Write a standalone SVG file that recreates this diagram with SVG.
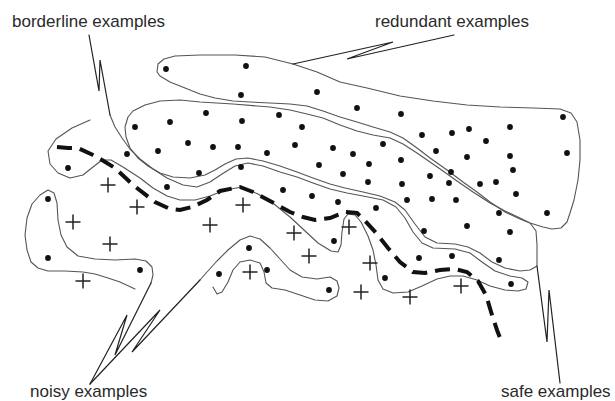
<svg xmlns="http://www.w3.org/2000/svg" width="615" height="401" viewBox="0 0 615 401">
<style>
.o{fill:none;stroke:#555;stroke-width:1.1;stroke-linejoin:round;stroke-linecap:round}
.p{fill:none;stroke:#222;stroke-width:1.2;stroke-linejoin:miter;stroke-linecap:round}
.d{fill:none;stroke:#111;stroke-width:4;stroke-dasharray:15 8}
.t{font-family:"Liberation Sans",Arial,sans-serif;font-size:17px;fill:#2a2a2a}
.x{stroke:#222;stroke-width:1.5}
</style>
<defs>
<circle id="dot" r="2.9" fill="#111"/>
<path id="plus" d="M-7.5,0H7.5M0,-7.5V7.5" class="x"/>
</defs>
<rect width="615" height="401" fill="#fff"/>
<g id="labels">
<text class="t" x="12" y="27">borderline examples</text>
<text class="t" x="375" y="27">redundant examples</text>
<text class="t" x="30" y="397">noisy examples</text>
<text class="t" x="501" y="397">safe examples</text>
</g>
<g id="regions">
<path id="redundant" class="o" d="M157,72 L158,64 L164,59 L175,56 L200,55 L235,55 L265,57 L293,64 L317,72 L340,82 L367,88 L400,96 L433,101 L467,105 L500,107 L533,108 L560,109 L571,113 L577,122 L580,140 L580,160 L578,180 L574,200 L570,213 L567,222 L561,228 L552,229 L543,227 L530,223 L520,219 L505,212 L490,202 L477,192 L463,182 L447,170 L430,158 L417,148 L403,138 L390,132 L373,127 L357,122 L340,117 L323,111 L307,106 L290,104 L270,103 L250,102 L233,101 L215,98 L200,94 L185,88 L170,82 L160,76 Z"/>
<path id="safe" class="o" d="M133,111 L145,105 L160,101 L180,100 L200,102 L233,104 L270,107 L290,110 L307,114 L323,118 L340,125 L357,131 L373,135 L390,138 L403,144 L417,153 L430,162 L443,171 L457,181 L473,192 L490,203 L505,211 L520,218 L530,223 L536,231 L537,245 L537,266 L530,270 L520,271 L505,268 L492,262 L480,253 L468,247 L455,244 L437,243 L425,237 L415,224 L405,210 L395,202 L380,196 L363,192 L345,188 L330,184 L313,178 L297,172 L280,166 L263,161 L248,158 L236,159 L225,164 L215,170 L205,175 L190,178 L173,177 L160,173 L148,166 L138,158 L130,148 L126,137 L125,127 L128,117 Z"/>
<path id="borderline" class="o" d="M110,115 L115,127 L122,138 L130,149 L140,159 L153,169 L167,178 L183,185 L197,187 L210,182 L222,174 L235,166 L248,163 L263,166 L280,172 L297,177 L313,183 L330,189 L347,193 L363,196 L383,200 L396,207 L405,218 L413,232 L422,243 L433,248 L455,249 L470,253 L482,262 L495,271 L510,276 L522,278 L528,282 L526,289 L518,291 L505,290 L490,286 L477,280 L463,276 L450,276 L437,279 L422,286 L408,292 L393,293 L383,289 L378,280 L376,265 L373,250 L368,236 L361,222 L355,215 L348,214 L344,219 L342,232 L341,245 L338,252 L331,251 L318,243 L304,230 L290,217 L274,204 L258,194 L242,187 L225,190 L210,196 L195,200 L180,200 L167,196 L153,188 L140,178 L123,167 L111,160 L102,160 L93,167 L83,175 L70,178 L58,173 L50,164 L48,151 L56,139 L72,128 L90,120"/>
<path id="noisy1" class="o" d="M135,289 L120,282 L108,278 L95,274 L83,272 L65,271 L48,271 L38,268 L31,262 L27,250 L25,235 L27,218 L32,204 L40,195 L48,190 L54,193 L57,203 L58,220 L61,235 L67,247 L78,256 L95,259 L115,260 L135,259 L146,261 L152,267 L153,275 L151,283"/>
<path id="noisy2" class="o" d="M200,280 L207,272 L217,261 L228,250 L240,240 L250,236 L260,239 L270,248 L280,259 L290,270 L302,277 L317,279 L330,277 L337,281 L339,288 L337,296 L328,301 L315,300 L300,295 L285,290 L272,288 L266,283 L264,272 L260,263 L250,260 L240,262 L233,270 L228,282 L222,292 L217,294 L213,287"/>
</g>
<g id="boundary">
<path class="d" d="M57,147 L68,148 L78,148 L93,155 L102,160 L115,168 L133,185 L155,202 L170,209 L180,210 L192,207 L207,200 L220,191 L240,187 L253,192 L270,201 L290,212 L303,217 L315,220 L330,218 L345,212 L357,213 L366,222 L377,234 L388,248 L400,262 L413,272 L425,273 L440,270 L455,269 L467,272 L478,281 L486,295 L492,315 L497,330 L502,343"/>
</g>
<g id="connectors">
<path class="p" d="M89,35 L99,91 L100,60 L110,115"/>
<path class="p" d="M454,35 L347,59 L393,42 L293,64"/>
<path class="p" d="M537,266 L547,342 L549,290 L560,383"/>
<path class="p" d="M151,283 L115,355 L127,315 L90,384"/>
<path class="p" d="M200,280 L132,352 L160,310 L90,384"/>
</g>
<g id="dots">
<use href="#dot" x="166" y="69"/><use href="#dot" x="246" y="66"/><use href="#dot" x="241" y="95"/><use href="#dot" x="206" y="113"/><use href="#dot" x="170" y="122"/><use href="#dot" x="135" y="127"/><use href="#dot" x="242" y="121"/><use href="#dot" x="279" y="115"/><use href="#dot" x="302" y="127"/><use href="#dot" x="188" y="143"/><use href="#dot" x="213" y="147"/><use href="#dot" x="238" y="147"/><use href="#dot" x="158" y="151"/><use href="#dot" x="267" y="153"/><use href="#dot" x="295" y="145"/><use href="#dot" x="127" y="154"/><use href="#dot" x="68" y="168"/><use href="#dot" x="199" y="173"/><use href="#dot" x="241" y="167"/><use href="#dot" x="167" y="187"/><use href="#dot" x="283" y="190"/>
<use href="#dot" x="317" y="92"/><use href="#dot" x="357" y="108"/><use href="#dot" x="401" y="114"/><use href="#dot" x="563" y="117"/><use href="#dot" x="422" y="135"/><use href="#dot" x="452" y="133"/><use href="#dot" x="469" y="129"/><use href="#dot" x="510" y="127"/><use href="#dot" x="486" y="141"/><use href="#dot" x="383" y="144"/><use href="#dot" x="567" y="153"/><use href="#dot" x="333" y="148"/><use href="#dot" x="353" y="154"/><use href="#dot" x="436" y="151"/><use href="#dot" x="467" y="157"/><use href="#dot" x="510" y="156"/><use href="#dot" x="319" y="165"/><use href="#dot" x="369" y="164"/><use href="#dot" x="401" y="160"/><use href="#dot" x="513" y="170"/><use href="#dot" x="343" y="174"/><use href="#dot" x="430" y="176"/><use href="#dot" x="451" y="172"/><use href="#dot" x="368" y="182"/><use href="#dot" x="402" y="184"/><use href="#dot" x="449" y="183"/><use href="#dot" x="480" y="184"/><use href="#dot" x="496" y="182"/><use href="#dot" x="516" y="194"/>
<use href="#dot" x="312" y="196"/><use href="#dot" x="338" y="202"/><use href="#dot" x="407" y="200"/><use href="#dot" x="432" y="199"/><use href="#dot" x="456" y="200"/><use href="#dot" x="376" y="208"/><use href="#dot" x="499" y="213"/><use href="#dot" x="547" y="213"/><use href="#dot" x="424" y="231"/><use href="#dot" x="467" y="226"/><use href="#dot" x="510" y="232"/><use href="#dot" x="334" y="241"/><use href="#dot" x="419" y="258"/><use href="#dot" x="452" y="256"/><use href="#dot" x="499" y="260"/><use href="#dot" x="385" y="278"/><use href="#dot" x="511" y="284"/><use href="#dot" x="329" y="290"/>
<use href="#dot" x="249" y="248"/><use href="#dot" x="219" y="274"/><use href="#dot" x="267" y="270"/><use href="#dot" x="48" y="199"/><use href="#dot" x="48" y="258"/><use href="#dot" x="140" y="270"/>
</g>
<g id="pluses">
<use href="#plus" x="108" y="185"/><use href="#plus" x="137" y="207"/><use href="#plus" x="73" y="222"/><use href="#plus" x="110" y="244"/><use href="#plus" x="83" y="281"/><use href="#plus" x="243" y="205"/><use href="#plus" x="210" y="225"/><use href="#plus" x="294" y="233"/><use href="#plus" x="309" y="256"/><use href="#plus" x="250" y="272"/><use href="#plus" x="349" y="227"/><use href="#plus" x="370" y="263"/><use href="#plus" x="361" y="292"/><use href="#plus" x="410" y="297"/><use href="#plus" x="461" y="286"/>
</g>
</svg>
